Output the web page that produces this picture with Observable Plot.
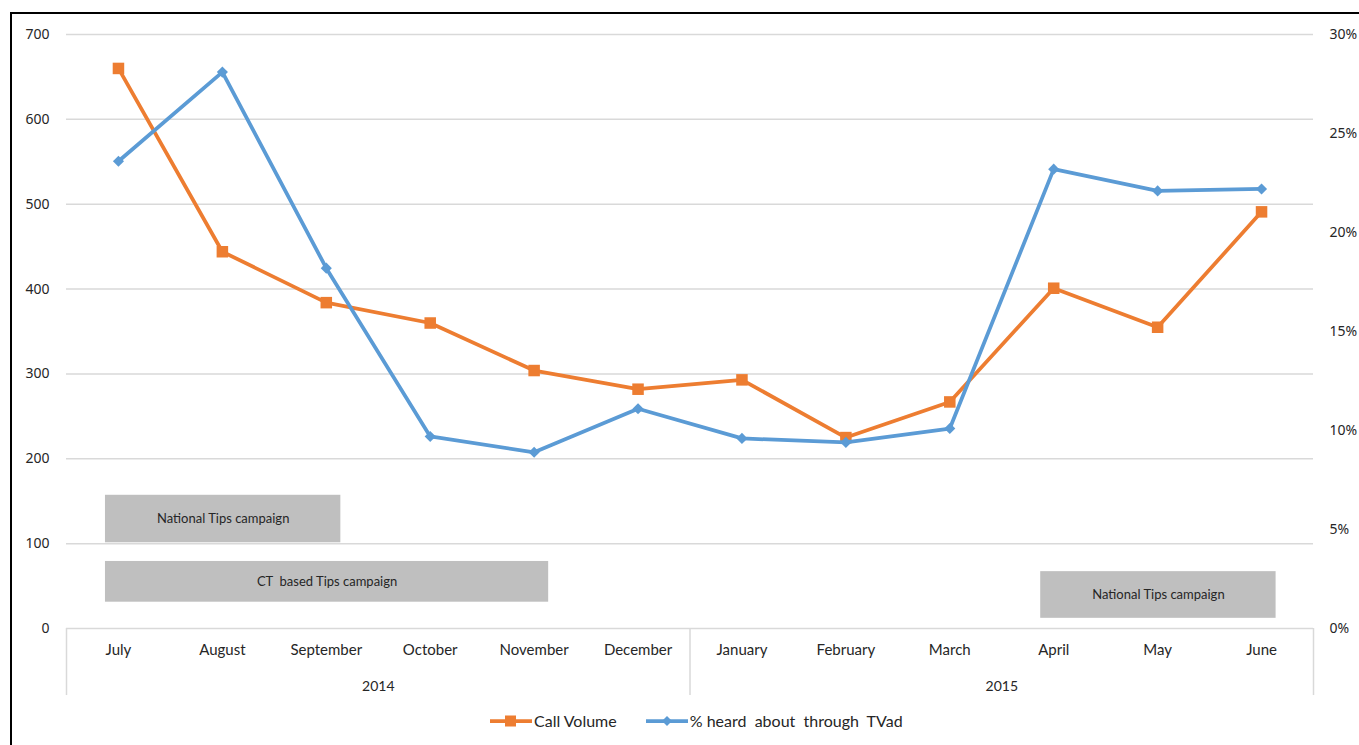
<!DOCTYPE html>
<html>
<head>
<meta charset="utf-8">
<script src="https://cdn.jsdelivr.net/npm/d3@7"></script>
<script src="https://cdn.jsdelivr.net/npm/@observablehq/plot@0.6"></script>
<style>
  body { margin: 0; background: #fff; }
  #wrap { position: relative; width: 1359px; height: 745px; overflow: hidden; background: #fff; }
  #frame { position: absolute; left: 10px; top: 12px; right: -4px; bottom: -4px;
           border-left: 2px solid #000; border-top: 2px solid #000; pointer-events: none; }
  #chart { position: absolute; left: 0; top: 0; }
  #legend { position: absolute; left: 490px; top: 711px; display: flex; align-items: center;
            font-family: Lato, "Open Sans", sans-serif; font-size: 16px; color: #262626; }
  .item { display: flex; align-items: center; }
  .item svg { display: block; }
  .item span { white-space: pre; }
</style>
</head>
<body>
<div id="wrap">
  <div id="chart"></div>
  <div id="frame"></div>
  <div id="legend"></div>
</div>
<script>
// Monthly figures, July 2014 – June 2015
const months = ["July", "August", "September", "October", "November", "December",
                "January", "February", "March", "April", "May", "June"];
const callVolume = [660, 444, 384, 360, 304, 282, 293, 225, 267, 401, 355, 491];
const tvPercent = [23.6, 28.1, 18.2, 9.7, 8.9, 11.1, 9.6, 9.4, 10.1, 23.2, 22.1, 22.2];

// Year groups along the category axis (first and last month index)
const years = ["2014", "2015"];
const yearStart = [0, 6];
const yearEnd = [5, 11];

// Campaign periods (month indexes)
const campaignLabels = ["National Tips campaign", "CT  based Tips campaign", "National Tips campaign"];
const campaignStart = [0, 0, 9];
const campaignEnd = [2, 4, 11];

// Axis ticks
const callTicks = [0, 100, 200, 300, 400, 500, 600, 700];
const pctTicks = [0, 5, 10, 15, 20, 25, 30];

const colors = { calls: "#ED7D31", tv: "#5B9BD5" };

// The percentage series shares the left scale: 30% lines up with 700 calls.
const pctToCalls = 700 / 30;

const rows = months.map((m, i) => ({ i, month: m, calls: callVolume[i], tv: tvPercent[i] * pctToCalls }));
const yearRows = years.map((y, k) => ({ year: y, mid: (yearStart[k] + yearEnd[k]) / 2 }));

// Vertical lanes for the campaign boxes, in call-volume units
const lanes = [[101, 157], [31, 79], [12, 67]];
const campaigns = campaignLabels.map((label, k) => ({
  label,
  x1: campaignStart[k] - 0.125,
  x2: campaignEnd[k] + 0.14,
  y1: lanes[k][0],
  y2: lanes[k][1]
}));

const axisFont = "'Noto Sans', 'Open Sans', sans-serif";
const labelFont = "Lato, 'Open Sans', sans-serif";

const chart = Plot.plot({
  width: 1359,
  height: 745,
  marginLeft: 66,
  marginRight: 46,
  marginTop: 34,
  marginBottom: 117,
  style: { background: "transparent", color: "#262626", overflow: "visible" },
  x: { domain: [-0.5, 11.5], axis: null },
  y: { domain: [0, 700], axis: null },
  marks: [
    Plot.ruleY(callTicks, { stroke: "#d9d9d9", strokeWidth: 1.5 }),
    // category axis box and the divider between years
    Plot.ruleX([-0.5, 5.5, 11.5], { x: d => d, y1: 0, y2: -79, stroke: "#d9d9d9", strokeWidth: 1.5 }),
    Plot.rect(campaigns, { x1: "x1", x2: "x2", y1: "y1", y2: "y2", fill: "#bfbfbf" }),
    Plot.text(campaigns, { x: d => (d.x1 + d.x2) / 2, y: d => (d.y1 + d.y2) / 2, text: "label",
      fontFamily: labelFont, fontSize: 13, fill: "#262626" }),
    Plot.axisY(callTicks, { anchor: "left", tickSize: 0, tickPadding: 17,
      fontFamily: axisFont, fontSize: 14 }),
    Plot.axisY(pctTicks.map(p => p * pctToCalls), { anchor: "right", tickSize: 0, tickPadding: 16,
      tickFormat: v => Math.round(v / pctToCalls) + "%", fontFamily: axisFont, fontSize: 14 }),
    Plot.axisX(d3.range(months.length), { anchor: "bottom", tickSize: 0, tickPadding: 16,
      tickFormat: i => months[i], fontFamily: labelFont, fontSize: 15 }),
    Plot.text(yearRows, { x: "mid", y: 0, dy: 58, text: "year",
      fontFamily: labelFont, fontSize: 14, fill: "#262626" }),
    Plot.line(rows, { x: "i", y: "calls", stroke: colors.calls, strokeWidth: 3.75 }),
    Plot.dot(rows, { x: "i", y: "calls", symbol: "square", r: 6.5, fill: colors.calls }),
    Plot.line(rows, { x: "i", y: "tv", stroke: colors.tv, strokeWidth: 3.75 }),
    Plot.dot(rows, { x: "i", y: "tv", symbol: "diamond2", r: 5, fill: colors.tv })
  ]
});
document.getElementById("chart").append(chart);

// Legend below the chart
const legendItems = [
  { label: "Call Volume", color: colors.calls, shape: "square" },
  { label: "% heard  about  through  TVad", color: colors.tv, shape: "diamond" }
];
const legend = d3.select("#legend");
legendItems.forEach((d, k) => {
  const item = legend.append("div").attr("class", "item").style("margin-left", k ? "29px" : "0");
  const svg = item.append("svg").attr("width", 44).attr("height", 14);
  svg.append("line").attr("x1", 0).attr("x2", 42).attr("y1", 7).attr("y2", 7)
    .attr("stroke", d.color).attr("stroke-width", 3.75);
  if (d.shape === "square") {
    svg.append("rect").attr("x", 15).attr("y", 1.5).attr("width", 11).attr("height", 11).attr("fill", d.color);
  } else {
    svg.append("path").attr("d", "M21,2L26,7L21,12L16,7Z").attr("fill", d.color);
  }
  item.append("span").text(d.label);
});
</script>
</body>
</html>
